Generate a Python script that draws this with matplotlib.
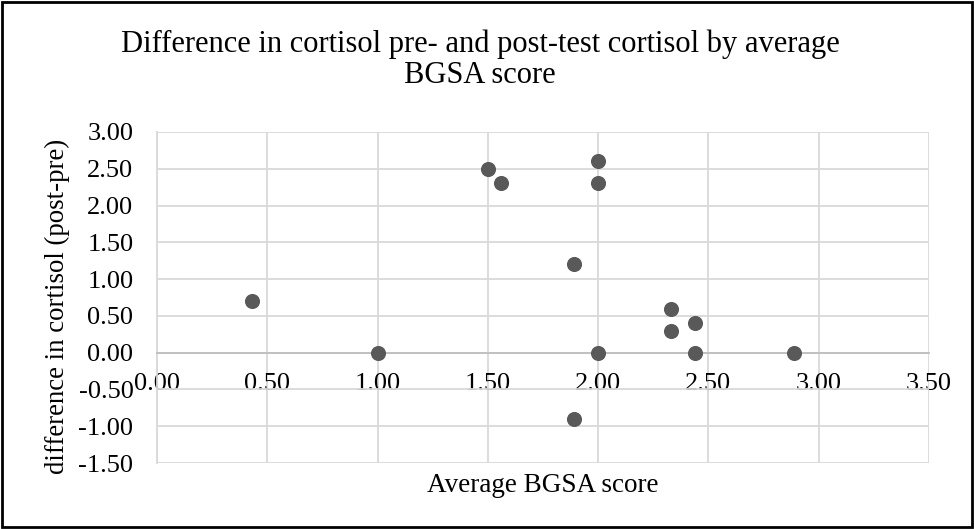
import numpy as np
import matplotlib.pyplot as plt
from matplotlib.patches import Rectangle

plt.rcParams['font.family'] = ['Liberation Serif', 'DejaVu Serif']

bgsa = [0.43, 1.00, 1.50, 1.56, 1.89, 1.89, 2.00, 2.00, 2.00, 2.33, 2.33, 2.44, 2.44, 2.89]
diff = [0.70, 0.00, 2.50, 2.30, 1.20, -0.90, 2.60, 2.30, 0.00, 0.60, 0.30, 0.40, 0.00, 0.00]
xticks = np.arange(0, 3.51, 0.5)
yticks = np.arange(-1.5, 3.01, 0.5)

fig = plt.figure(figsize=(9.74, 5.29), dpi=100)
ax = fig.add_axes([157/974, 1-463/529, (929-157)/974, (463-132)/529])

ax.scatter(bgsa, diff, s=118, color='#595959', zorder=3, linewidths=0)

ax.set_xlim(0, 3.5)
ax.set_ylim(-1.5, 3.0)
ax.set_xticks(xticks)
ax.set_yticks(yticks)
ax.set_xticklabels([f"{v:.2f}" for v in xticks])
ax.set_yticklabels([f"{v:.2f}" for v in yticks])
ax.tick_params(length=0, labelsize=19, colors='black')
ax.tick_params(axis='y', pad=17)
ax.tick_params(axis='x', pad=15)
ax.grid(True, color='#d9d9d9', linewidth=1.3, zorder=0)
ax.set_axisbelow(True)

for s in ['top', 'right']:
    ax.spines[s].set_visible(False)
ax.spines['left'].set_color('#d9d9d9')
ax.spines['left'].set_linewidth(1.3)
ax.spines['bottom'].set_position(('data', 0))
ax.spines['bottom'].set_color('#bfbfbf')
ax.spines['bottom'].set_linewidth(1.3)

fig.text(543/974, 1-486/529, "Average BGSA score", fontsize=19.5, ha='center', va='center')
fig.text(57/974, 1-306/529, "difference in cortisol (post-pre)", fontsize=19.3,
         ha='center', va='center', rotation=90)
fig.text(480/974, 1-60/529, "Difference in cortisol pre- and post-test cortisol by average\nBGSA score",
         fontsize=22, ha='center', va='center', linespacing=1.1)

fig.patches.append(Rectangle((0.002, 0.003), 0.996, 0.994, transform=fig.transFigure,
                             fill=False, edgecolor='black', linewidth=2))

plt.savefig('out.png', dpi=100)
